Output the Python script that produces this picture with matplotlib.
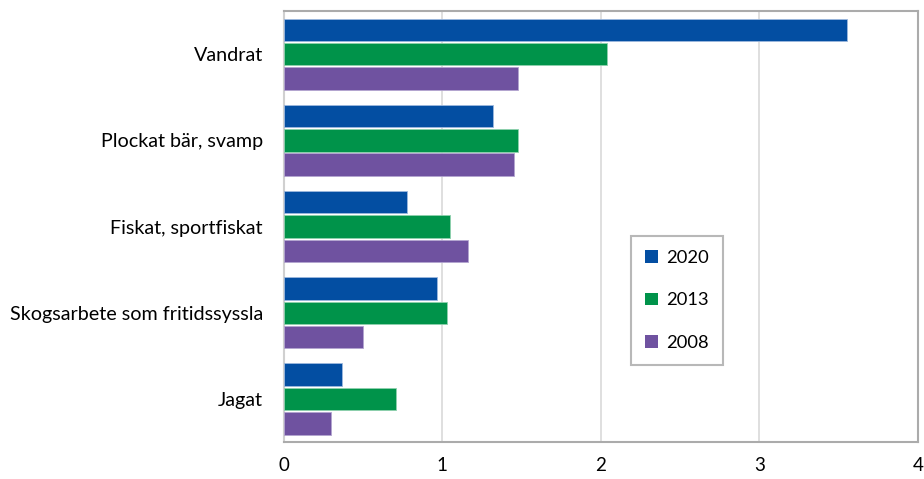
import matplotlib
matplotlib.use("Agg")
import matplotlib.pyplot as plt
import numpy as np

categories = ["Vandrat", "Plockat bär, svamp", "Fiskat, sportfiskat",
              "Skogsarbete som fritidssyssla", "Jagat"]
years = ["2020", "2013", "2008"]
v2020 = [3.55, 1.32, 0.78, 0.97, 0.37]
v2013 = [2.04, 1.48, 1.05, 1.03, 0.71]
v2008 = [1.48, 1.45, 1.16, 0.50, 0.30]
x_ticks = [0, 1, 2, 3, 4]

colors = ["#034EA2", "#00934A", "#6F52A0"]
edges = ["#9DB8DE", "#8FD1AE", "#B3A5D0"]

plt.rcParams['font.family'] = ['Lato', 'DejaVu Sans']

fig = plt.figure(figsize=(9.24, 4.79), dpi=100)
ax = fig.add_axes([0.307, 0.077, 0.6865, 0.9])

y = np.arange(len(categories))
h = 0.26
step = 0.282
for i, (vals, lab) in enumerate(zip([v2020, v2013, v2008], years)):
    ax.barh(y + (i - 1) * step, vals, height=h, color=colors[i],
            edgecolor=edges[i], linewidth=0.6, label=lab, zorder=3)

ax.set_ylim(4.5, -0.5)
ax.set_xlim(0, 4)
ax.set_xticks(x_ticks)
ax.set_xticklabels([str(t) for t in x_ticks], fontsize=13.5)
ax.set_yticks(y)
ax.set_yticklabels(categories, fontsize=14.2)
ax.tick_params(axis='both', length=0)
ax.tick_params(axis='x', pad=11)
ax.tick_params(axis='y', pad=15)
ax.grid(axis='x', color='#D9D9D9', linewidth=1.2, zorder=0)
for s in ax.spines.values():
    s.set_color('#ABABAB')
    s.set_linewidth(1.5)
ax.spines['left'].set_color('#D0D0D0')

leg = ax.legend(loc='upper left', bbox_to_anchor=(0.548, 0.478),
                fontsize=13.2, frameon=True, fancybox=False,
                handlelength=0.7, handleheight=0.7, handletextpad=0.45,
                labelspacing=1.45, borderpad=0.75, borderaxespad=0)
leg.get_frame().set_edgecolor('#A6A6A6')
leg.get_frame().set_linewidth(1.5)
for hnd in leg.legend_handles:
    hnd.set_edgecolor('none')

fig.savefig("out.png", dpi=100)
